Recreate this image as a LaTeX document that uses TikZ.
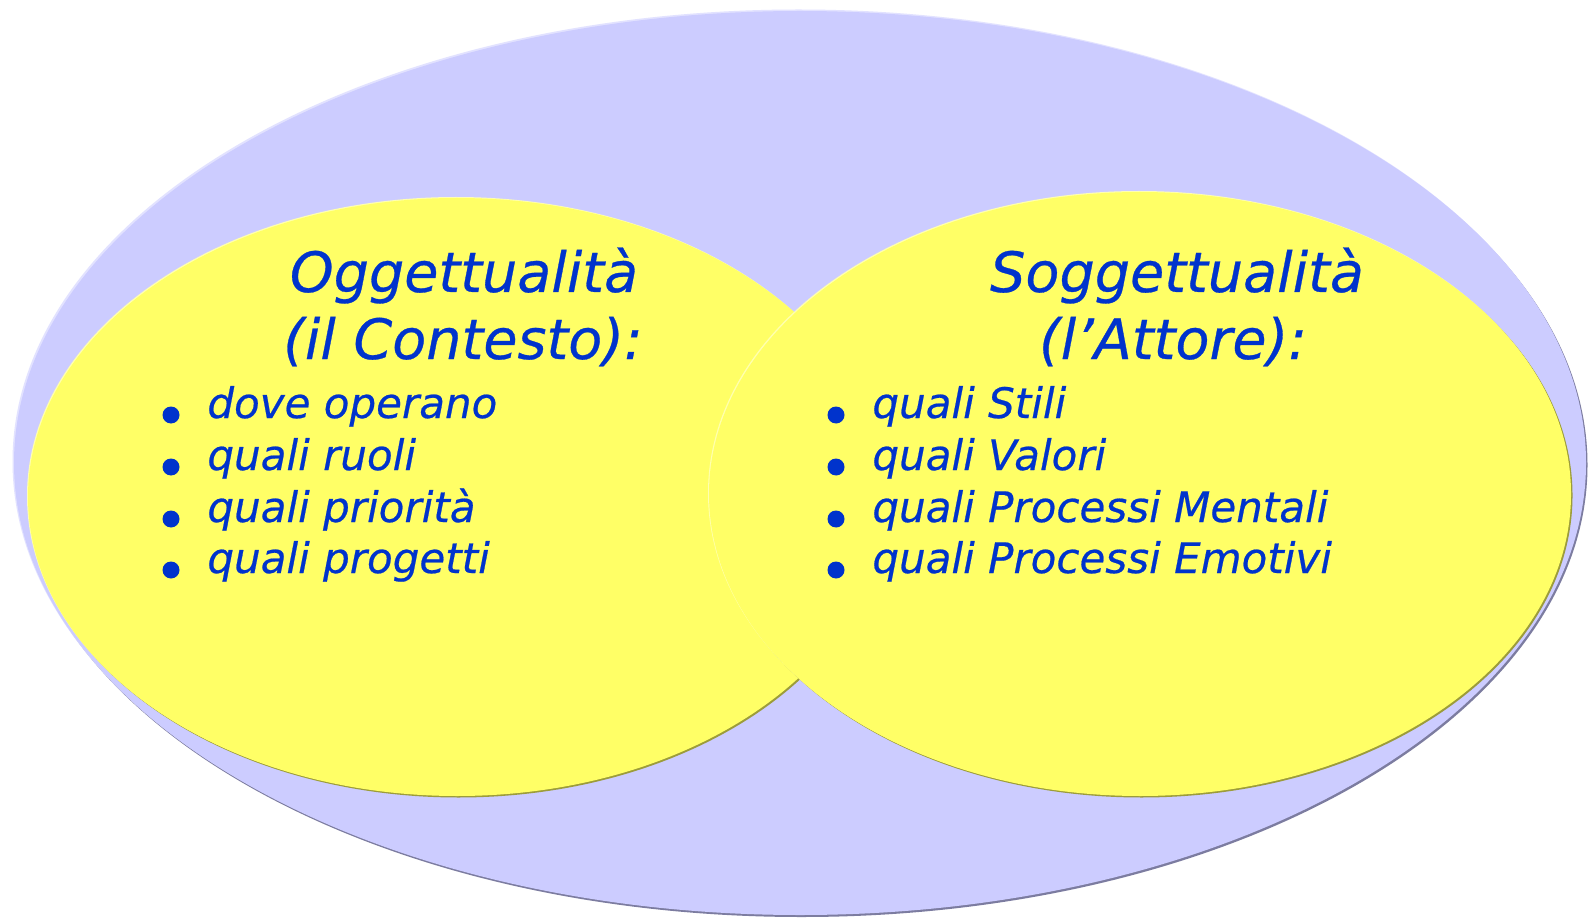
\documentclass[tikz,border=0pt]{standalone}
\usepackage{fontspec}
\setmainfont{DejaVu Sans}[ItalicFeatures={FakeBold=0.5}]
\definecolor{lav}{HTML}{CCCCFF}
\definecolor{lavlight}{HTML}{E2E2FF}
\definecolor{lavdark}{HTML}{7C7CA0}
\definecolor{yel}{HTML}{FFFF66}
\definecolor{yellight}{HTML}{FFFFB0}
\definecolor{yeldark}{HTML}{9C9C3A}
\definecolor{txt}{HTML}{0033CC}
\tikzset{
  ttl/.style={inner sep=0pt, anchor=base, text=txt, font=\fontsize{27.8}{32}\selectfont\itshape},
  itm/.style={inner sep=0pt, anchor=base west, text=txt, font=\fontsize{21}{25}\selectfont\itshape},
  dot/.style={fill=txt}
}
\begin{document}
\begin{tikzpicture}[x=0.5pt,y=-0.5pt]
\useasboundingbox (0,0) rectangle (1594,919);
\fill[white] (0,0) rectangle (1594,919);
% outer ellipse with bevel edges
\fill[lavdark] (801.5,465) ellipse [x radius=786, y radius=452];
\fill[lavlight] (798.5,461.5) ellipse [x radius=786, y radius=452];
\fill[lav] (800,463) ellipse [x radius=786, y radius=452];
% left yellow ellipse
\fill[yeldark] (458.5,498.5) ellipse [x radius=429, y radius=299];
\fill[yellight] (456,496) ellipse [x radius=429, y radius=299];
\fill[yel] (457,497) ellipse [x radius=429, y radius=299];
% right yellow ellipse
\fill[yeldark] (1141.5,495.5) ellipse [x radius=431, y radius=302];
\fill[yellight] (1139,493) ellipse [x radius=431, y radius=302];
\fill[yel] (1140,494) ellipse [x radius=431, y radius=302];
% left texts
\node[ttl] (ta1) at (464,292) {Oggettualità};
\node[ttl] (ta2) at (463,359) {(il Contesto):};
\node[itm] (la1) at (207,418) {dove operano};
\node[itm] (la2) at (207,470) {quali ruoli};
\node[itm] (la3) at (207,522) {quali priorità};
\node[itm] (la4) at (207,573) {quali progetti};
\foreach \yy in {415,467,519,570} \fill[dot] (171,\yy) circle [radius=8.5];
% right texts
\node[ttl] (tb1) at (1177,292) {Soggettualità};
\node[ttl] (tb2) at (1173,359) {(l’Attore):};
\node[itm] (lb1) at (872,418) {quali Stili};
\node[itm] (lb2) at (872,470) {quali Valori};
\node[itm] (lb3) at (872,522) {quali Processi Mentali};
\node[itm] (lb4) at (872,573) {quali Processi Emotivi};
\foreach \yy in {415,467,519,570} \fill[dot] (836,\yy) circle [radius=8.5];
\end{tikzpicture}
\end{document}
